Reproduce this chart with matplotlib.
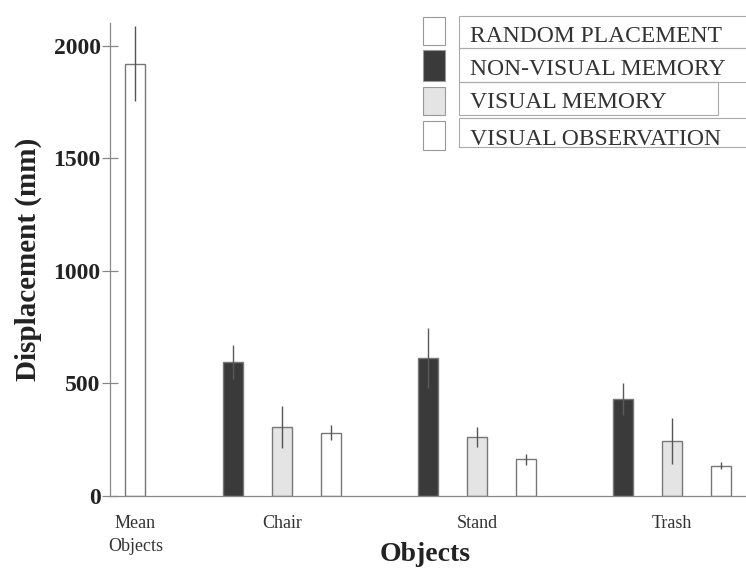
import numpy as np
import matplotlib
matplotlib.use('Agg')
import matplotlib.pyplot as plt
from matplotlib.patches import Rectangle

plt.rcParams['font.family'] = ['Liberation Serif', 'DejaVu Serif']

# 数据
groups = ['Chair', 'Stand', 'Trash']
series = ['RANDOM PLACEMENT', 'NON-VISUAL MEMORY', 'VISUAL MEMORY', 'VISUAL OBSERVATION']
random_mean = 1920
random_err = 165
nonvisual = [594, 612, 429]
nonvisual_err = [76, 133, 72]
visual_mem = [305, 260, 243]
visual_mem_err = [92, 45, 100]
visual_obs = [279, 162, 133]
visual_obs_err = [33, 24, 15]
yticks = [0, 500, 1000, 1500, 2000]

W, H = 746, 568
fig = plt.figure(figsize=(W / 100, H / 100), dpi=100)
ax = fig.add_axes([110 / W, 1 - 495.7 / H, (W - 110) / W, (495.7 - 23) / H])

edge = '#777777'
dark = '#3a3a3a'
light = '#e4e4e4'
bw = 0.41

# 每组三根柱子: 组 g 的位置为 4g+2, 4g+3, 4g+4
base = np.arange(len(groups)) * 4 + 2
ax.bar([0], [random_mean], bw, color='white', edgecolor=edge, linewidth=1)
ax.bar(base, nonvisual, bw, color=dark, edgecolor=edge, linewidth=1)
ax.bar(base + 1, visual_mem, bw, color=light, edgecolor=edge, linewidth=1)
ax.bar(base + 2, visual_obs, bw, color='white', edgecolor=edge, linewidth=1)

ax.errorbar([0], [random_mean], yerr=[random_err], fmt='none', ecolor='#555555', elinewidth=1, capsize=0)
ax.errorbar(base, nonvisual, yerr=nonvisual_err, fmt='none', ecolor='#5a5a5a', elinewidth=1, capsize=0)
ax.errorbar(base + 1, visual_mem, yerr=visual_mem_err, fmt='none', ecolor='#555555', elinewidth=1, capsize=0)
ax.errorbar(base + 2, visual_obs, yerr=visual_obs_err, fmt='none', ecolor='#555555', elinewidth=1, capsize=0)

ax.set_xlim(-0.52, 12.51)
ax.set_ylim(0, 2100)

for s in ['top', 'right']:
    ax.spines[s].set_visible(False)
for s in ['left', 'bottom']:
    ax.spines[s].set_color('#888888')
    ax.spines[s].set_linewidth(0.9)

ax.set_yticks(yticks)
ax.set_yticklabels([str(v) for v in yticks], fontsize=17, fontweight='bold', color='#222222')
ax.tick_params(axis='y', direction='inout', length=11.5, width=0.9, color='#888888', pad=1)

ax.set_xticks(np.concatenate([[0], base + 1]))
ax.set_xticklabels(['Mean\nObjects'] + groups, fontsize=13, color='#333333', linespacing=1.45)
ax.tick_params(axis='x', length=0, pad=14)

ax.set_ylabel('Displacement (mm)', fontsize=21, fontweight='bold', color='#222222', labelpad=8)
ax.set_xlabel('Objects', fontsize=20, fontweight='bold', color='#222222')
ax.xaxis.set_label_coords(0.495, -0.098)


def px(x, y):
    return x / W, 1 - y / H


# 图例（手工绘制）
box_rows = [(17, 45), (50, 81), (87, 115), (121, 150)]
box_colors = ['white', dark, light, 'white']
text_y = [37, 70, 102, 139]
frames = [(16, 48, 760), (48, 82, 760), (82, 115, 718), (118, 147, 760)]
for (y0, y1), c in zip(box_rows, box_colors):
    x0, yb = px(423, y1)
    fig.add_artist(Rectangle((x0, yb), 22 / W, (y1 - y0) / H, transform=fig.transFigure,
                             facecolor=c, edgecolor='#999999', linewidth=0.8))
for (y0, y1, xr) in frames:
    x0, yb = px(459, y1)
    fig.add_artist(Rectangle((x0, yb), (xr - 459) / W, (y1 - y0) / H, transform=fig.transFigure,
                             facecolor='none', edgecolor='#aaaaaa', linewidth=0.8, clip_on=False))
for name, ty in zip(series, text_y):
    fig.text(470 / W, 1 - ty / H, name, fontsize=17, color='#333333', va='center', ha='left')

fig.savefig('out.png', dpi=100)
